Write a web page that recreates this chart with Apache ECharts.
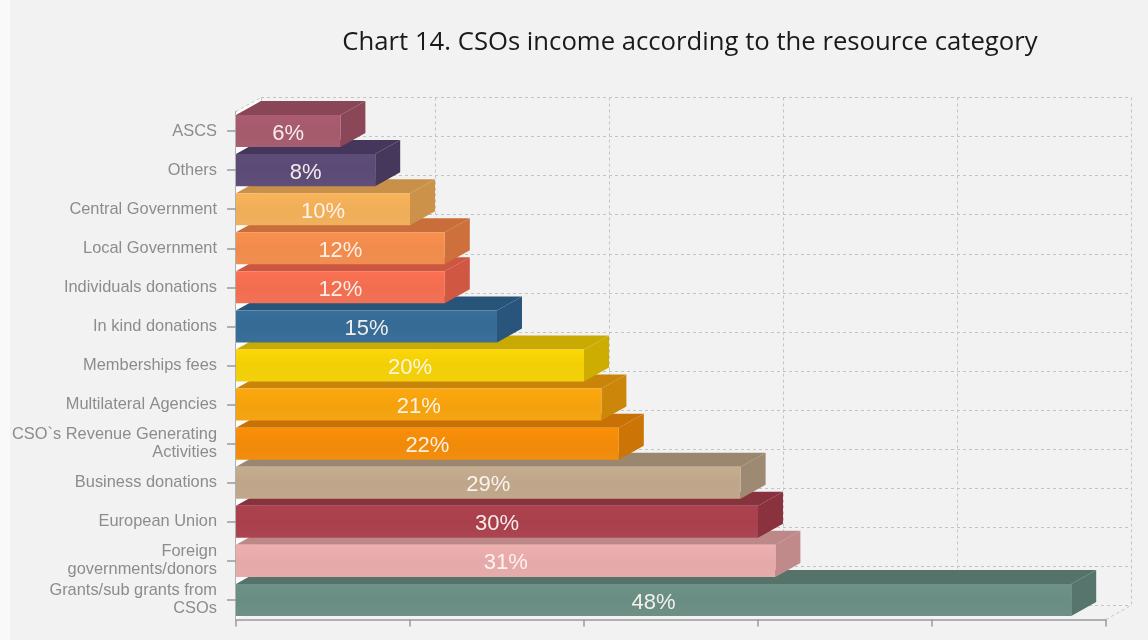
<!DOCTYPE html>
<html>
<head>
<meta charset="utf-8">
<script src="https://cdn.jsdelivr.net/npm/echarts@6/dist/echarts.min.js"></script>
<style>
  html, body { margin: 0; padding: 0; background: #f2f2f2; }
  #chart { width: 1148px; height: 640px; }
</style>
</head>
<body>
<div id="chart"></div>
<script>
// Resource categories, top to bottom
const categories = [
  'ASCS',
  'Others',
  'Central Government',
  'Local Government',
  'Individuals donations',
  'In kind donations',
  'Memberships fees',
  'Multilateral Agencies',
  'CSO`s Revenue Generating\nActivities',
  'Business donations',
  'European Union',
  'Foreign\ngovernments/donors',
  'Grants/sub grants from\nCSOs'
];

// Share of CSOs income per category (%)
const shares = [6, 8, 10, 12, 12, 15, 20, 21, 22, 29, 30, 31, 48];

// Value axis range (%)
const axisMin = 0;
const axisMax = 50;
const axisStep = 10;

// Front face colours and the darker shade used for top/side faces
const faceColors = [
  '#a55a6c', '#5b4a75', '#f0ae58', '#f08b4c', '#f26d50', '#356b95', '#f2cf05',
  '#f4a20d', '#f18a08', '#bfa68a', '#a8404c', '#e6a9a9', '#6a8d83'
];
const shadeColors = [
  '#894657', '#45375c', '#c99049', '#c96e3b', '#cc5640', '#29547a', '#c9aa02',
  '#c8850a', '#c87206', '#9b8770', '#88323d', '#bd8888', '#56736a'
];

// Depth of the pseudo-3D extrusion, in pixels
const DX = 25, DY = 14;
const BAR_RATIO = 0.82;

const chart = echarts.init(document.getElementById('chart'), null, { renderer: 'canvas' });

// Bars are painted bottom-up so that upper bars overlap the top faces below them
const barData = shares.map((v, i) => [v, i]).reverse();

function faceFill(color) {
  return {
    type: 'linear', x: 0, y: 0, x2: 0, y2: 1,
    colorStops: [
      { offset: 0, color: echarts.color.lift(color, -0.04) },
      { offset: 0.5, color: color },
      { offset: 1, color: echarts.color.lift(color, 0.03) }
    ]
  };
}

function renderBar(params, api) {
  const v = api.value(0);
  const idx = api.value(1);
  const start = api.coord([axisMin, idx]);
  const end = api.coord([v, idx]);
  const band = api.size([0, 1])[1];
  const h = band * BAR_RATIO;
  const x0 = start[0], x1 = end[0];
  const yT = start[1] - h / 2, yB = start[1] + h / 2;
  const shade = shadeColors[idx];
  return {
    type: 'group',
    children: [
      {
        type: 'polygon',
        shape: { points: [[x0, yT], [x0 + DX, yT - DY], [x1 + DX, yT - DY], [x1, yT]] },
        style: { fill: shade }
      },
      {
        type: 'polygon',
        shape: { points: [[x1, yT], [x1 + DX, yT - DY], [x1 + DX, yB - DY], [x1, yB]] },
        style: { fill: echarts.color.lift(shade, -0.02) }
      },
      {
        type: 'rect',
        shape: { x: x0, y: yT, width: x1 - x0, height: h },
        style: { fill: faceFill(faceColors[idx]) }
      },
      {
        type: 'text',
        x: (x0 + x1) / 2,
        y: start[1] + 2.5,
        style: {
          text: v + '%',
          fill: 'rgba(255,248,244,0.92)',
          font: '22px "Liberation Sans", Arial, sans-serif',
          align: 'center',
          verticalAlign: 'middle'
        }
      }
    ]
  };
}

function renderFrame(params, api) {
  const band = api.size([0, 1])[1];
  const top = api.coord([axisMin, 0])[1] - band / 2;
  const bottom = api.coord([axisMin, categories.length - 1])[1] + band / 2;
  const x0 = api.coord([axisMin, 0])[0];
  const x1 = api.coord([axisMax, 0])[0];
  const dash = { stroke: '#c4c4c4', lineWidth: 1, lineDash: [3, 3], fill: null };
  return {
    type: 'group',
    children: [
      {
        type: 'polygon',
        shape: { points: [[x0, top], [x0 + DX, top - DY], [x0 + DX, bottom - DY], [x0, bottom]] },
        style: { fill: '#fdfdfd' }
      },
      { type: 'line', shape: { x1: x0, y1: top, x2: x0 + DX, y2: top - DY }, style: dash },
      { type: 'line', shape: { x1: x1, y1: bottom, x2: x1 + DX, y2: bottom - DY }, style: dash }
    ]
  };
}

const option = {
  backgroundColor: '#f2f2f2',
  animation: false,
  title: {
    text: 'Chart 14. CSOs income according to the resource category',
    left: 685,
    top: 25,
    textAlign: 'center',
    textStyle: {
      fontFamily: '"Open Sans", sans-serif',
      fontSize: 25.7,
      fontWeight: 'normal',
      color: '#1a1a1a'
    }
  },
  graphic: [
    { type: 'rect', left: 0, top: 0, shape: { width: 10, height: 640 }, style: { fill: '#f9f9f9' }, z: -10 }
  ],
  grid: [
    { left: 236, right: 42, top: 111.5, bottom: 20.5 },
    { left: 261, right: 17, top: 97.5, bottom: 34.5 }
  ],
  xAxis: [
    {
      gridIndex: 0, type: 'value', min: axisMin, max: axisMax, interval: axisStep,
      axisLabel: { show: false },
      axisLine: { show: true, lineStyle: { color: '#9a9a9a', width: 1.5 } },
      axisTick: { show: true, length: 7, lineStyle: { color: '#9a9a9a', width: 1.5 } },
      splitLine: { show: false }
    },
    {
      gridIndex: 1, type: 'value', min: axisMin, max: axisMax, interval: axisStep,
      axisLabel: { show: false }, axisLine: { show: false }, axisTick: { show: false },
      splitLine: { show: true, lineStyle: { color: '#c4c4c4', type: [3, 3] } }
    }
  ],
  yAxis: [
    {
      gridIndex: 0, type: 'category', inverse: true, data: categories,
      axisLine: { show: true, lineStyle: { color: '#9a9a9a', width: 1.5 } },
      axisTick: { show: true, alignWithLabel: true, interval: 0, length: 9, lineStyle: { color: '#9a9a9a', width: 1.5 } },
      axisLabel: {
        interval: 0, hideOverlap: false,
        margin: 19, color: '#8c8c8c', fontSize: 16.4, lineHeight: 18,
        fontFamily: '"Liberation Sans", Arial, sans-serif', align: 'right',
        padding: [11, 0, 0, 0]
      },
      splitLine: { show: false }
    },
    {
      gridIndex: 1, type: 'category', inverse: true, data: categories,
      axisLabel: { show: false }, axisLine: { show: false }, axisTick: { show: false },
      splitLine: { show: true, interval: 0, lineStyle: { color: '#c4c4c4', type: [3, 3] } }
    }
  ],
  series: [
    {
      type: 'custom', xAxisIndex: 0, yAxisIndex: 0, z: 1,
      data: [[axisMin, 0]],
      renderItem: renderFrame,
      silent: true
    },
    {
      type: 'custom', xAxisIndex: 0, yAxisIndex: 0, z: 2,
      data: barData,
      encode: { x: 0, y: 1 },
      renderItem: renderBar,
      clip: false
    }
  ]
};

chart.setOption(option);
</script>
</body>
</html>
